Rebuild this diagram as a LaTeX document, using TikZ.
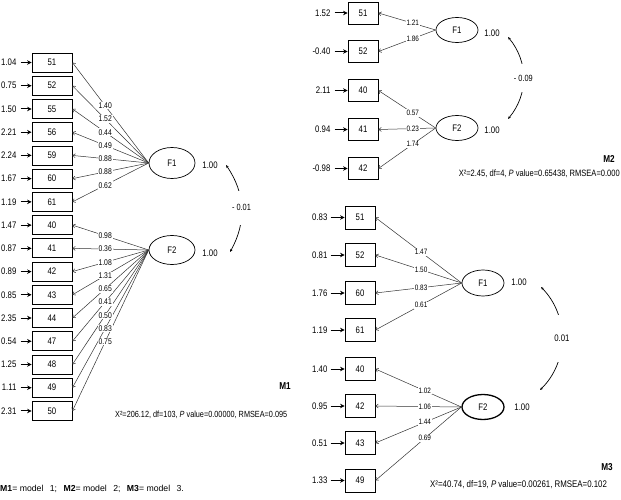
\documentclass[tikz,border=0pt]{standalone}
\usepackage{fontspec}
\setmainfont{Liberation Sans}
\newfontfamily\nrw{Liberation Sans}[FakeStretch=0.82]
\usetikzlibrary{arrows.meta,shapes.geometric,positioning}

\begin{document}
\begin{tikzpicture}[x=1pt,y=-1pt,% one unit = one pixel of the reference, y downwards
        box/.style={draw,line width=0.8pt,inner sep=0pt,minimum width=40pt,minimum height=19pt,font=\nrw\fontsize{9.5}{10}\selectfont},
        sbox/.style={box,minimum width=30pt,minimum height=22pt},
        fac/.style={draw,ellipse,line width=0.7pt,inner sep=0pt,minimum width=46pt,minimum height=31pt,font=\nrw\fontsize{9.5}{10}\selectfont},
        err/.style={inner sep=1pt,font=\nrw\fontsize{9.5}{10}\selectfont},
        lbl/.style={fill=white,inner sep=0.8pt,font=\nrw\fontsize{8.3}{9}\selectfont},
        slbl/.style={lbl,font=\nrw\fontsize{7.8}{8}\selectfont},
        txt/.style={inner sep=0pt,font=\nrw\fontsize{9.5}{10}\selectfont},
        mname/.style={inner sep=0pt,font=\nrw\bfseries\fontsize{10}{10}\selectfont},
        load/.style={draw=black!80,line width=0.5pt,-{Straight Barb[length=2.5pt,width=4pt]}},
        erra/.style={line width=1pt,-{Stealth[length=4.5pt,width=4.5pt]}},
        cov/.style={line width=0.7pt,{Stealth[length=3pt,width=2.5pt]}-{Stealth[length=3pt,width=2.5pt]}}]
\useasboundingbox (0,0) rectangle (621,500);

%%% M1
\node[fac] (M1-F1) at (172,163) {F1};
\node[fac,minimum height=29pt] (M1-F2) at (172,250) {F2};
\foreach[count=\i] \lab/\ev in {51/1.04,52/0.75,55/1.50,56/2.21,59/2.24,60/1.67,61/1.19,40/1.47,41/0.87,42/0.89,43/0.85,44/2.35,47/0.54,48/1.25,49/1.11,50/2.31}{
\node[box] (M1-\i) at (52,{62.5+23.23*(\i-1)}) {\lab};
\node[err,left=14pt of M1-\i] (M1-e\i) {\ev};
\draw[erra,shorten <=3pt] (M1-e\i) -- (M1-\i);
}
\foreach \i in {1,...,7} \draw[load] (M1-F1.west) -- (M1-\i.east);
\foreach \i in {8,...,16} \draw[load] (M1-F2.west) -- (M1-\i.east);
\foreach[count=\i] \l in {1.40,1.52,0.44,0.49,0.88,0.88,0.62}{
\path (M1-F1.west) -- (M1-\i.east) node[lbl,pos=0.57] (M1-L\i) {\l};
}
\foreach[count=\i from 8] \l in {0.98,0.36,1.08,1.31,0.65,0.41,0.50,0.83,0.75}{
\path (M1-F2.west) -- (M1-\i.east) node[lbl,pos=0.57] (M1-L\i) {\l};
}
\node[txt] (M1-r1) at (210,165) {1.00};
\node[txt] (M1-r2) at (210,253) {1.00};
\coordinate (M1-v1) at (226,165);
\coordinate (M1-v2) at (230,252);
\draw[cov] (M1-v1) to[bend left=32] node[fill=white,inner xsep=1pt,inner ysep=14pt,font=\nrw\fontsize{9}{9}\selectfont] (M1-c) {- 0.01} (M1-v2);
\node[mname] (M1-name) at (285,386) {M1};
\node[txt,anchor=west,font=\nrw\fontsize{8.9}{10}\selectfont] (M1-fit) at (115,415) {X²=206.12, df=103, \textit{P} value=0.00000, RMSEA=0.095};

%%% M2
\node[fac,minimum width=42pt,minimum height=25pt] (M2-F1) at (457,30) {F1};
\node[fac,minimum width=42pt,minimum height=25pt] (M2-F2) at (457,128) {F2};
\foreach[count=\i] \lab/\ev/\y in {51/1.52/13,52/-0.40/51.5,40/2.11/90.5,41/0.94/129.5,42/-0.98/168.5}{
\node[sbox] (M2-\i) at (363,\y) {\lab};
\node[err,left=16pt of M2-\i] (M2-e\i) {\ev};
\draw[erra,shorten <=3pt] (M2-e\i) -- (M2-\i);
}
\foreach \i in {1,2} \draw[load] (M2-F1.west) -- (M2-\i.east);
\foreach \i in {3,4,5} \draw[load] (M2-F2.west) -- (M2-\i.east);
\foreach[count=\i] \l in {1.21,1.86}{
\path (M2-F1.west) -- (M2-\i.east) node[slbl,pos=0.4] (M2-L\i) {\l};
}
\foreach[count=\i from 3] \l in {0.57,0.23,1.74}{
\path (M2-F2.west) -- (M2-\i.east) node[slbl,pos=0.4] (M2-L\i) {\l};
}
\node[txt] (M2-r1) at (492,33) {1.00};
\node[txt] (M2-r2) at (492,130) {1.00};
\coordinate (M2-v1) at (508,37);
\coordinate (M2-v2) at (508,119);
\draw[cov] (M2-v1) to[bend left=40] node[fill=white,inner xsep=1pt,inner ysep=11pt,font=\nrw\fontsize{9}{9}\selectfont] (M2-c) {- 0.09} (M2-v2);
\node[mname] (M2-name) at (609,159) {M2};
\node[txt,anchor=east,font=\nrw\fontsize{9.2}{10}\selectfont] (M2-fit) at (620,174) {X²=2.45, df=4, \textit{P} value=0.65438, RMSEA=0.000};

%%% M3
\node[fac,minimum width=42pt,minimum height=26pt] (M3-F1) at (483,283) {F1};
\node[fac,minimum width=42pt,minimum height=25pt,line width=1.3pt] (M3-F2) at (483,407) {F2};
\foreach[count=\i] \lab/\ev/\y in {51/0.83/217.5,52/0.81/255,60/1.76/293,61/1.19/330,40/1.40/369,42/0.95/406,43/0.51/443,49/1.33/480.5}{
\node[sbox,minimum height=23pt] (M3-\i) at (360,\y) {\lab};
\node[err,left=16pt of M3-\i] (M3-e\i) {\ev};
\draw[erra,shorten <=2pt] (M3-e\i) -- (M3-\i);
}
\foreach \i in {1,...,4} \draw[load] (M3-F1.west) -- (M3-\i.east);
\foreach \i in {5,...,8} \draw[load] (M3-F2.west) -- (M3-\i.east);
\foreach[count=\i] \l in {1.47,1.50,0.83,0.61}{
\path (M3-F1.west) -- (M3-\i.east) node[slbl,pos=0.47] (M3-L\i) {\l};
}
\foreach[count=\i from 5] \l in {1.02,1.06,1.44,0.69}{
\path (M3-F2.west) -- (M3-\i.east) node[slbl,pos=0.425] (M3-L\i) {\l};
}
\node[txt] (M3-r1) at (519,282) {1.00};
\node[txt] (M3-r2) at (522,407) {1.00};
\coordinate (M3-v1) at (541,287);
\coordinate (M3-v2) at (540,390);
\draw[cov] (M3-v1) to[bend left=45] node[fill=white,inner xsep=1pt,inner ysep=20pt,font=\nrw\fontsize{9.5}{10}\selectfont] (M3-c) {0.01} (M3-v2);
\node[mname] (M3-name) at (607,467) {M3};
\node[txt,anchor=west,font=\nrw\fontsize{9.6}{10}\selectfont] (M3-fit) at (430,485) {X²=40.74, df=19, \textit{P} value=0.00261, RMSEA=0.102};

%%% key
\node[anchor=west,inner sep=0pt,font=\fontsize{8.7}{10}\selectfont] (key) at (0,489) {\textbf{M1}= model\hspace{4pt} 1;\hspace{4pt} \textbf{M2}= model\hspace{4pt} 2;\hspace{4pt} \textbf{M3}= model\hspace{4pt} 3.};

\end{tikzpicture}
\end{document}
